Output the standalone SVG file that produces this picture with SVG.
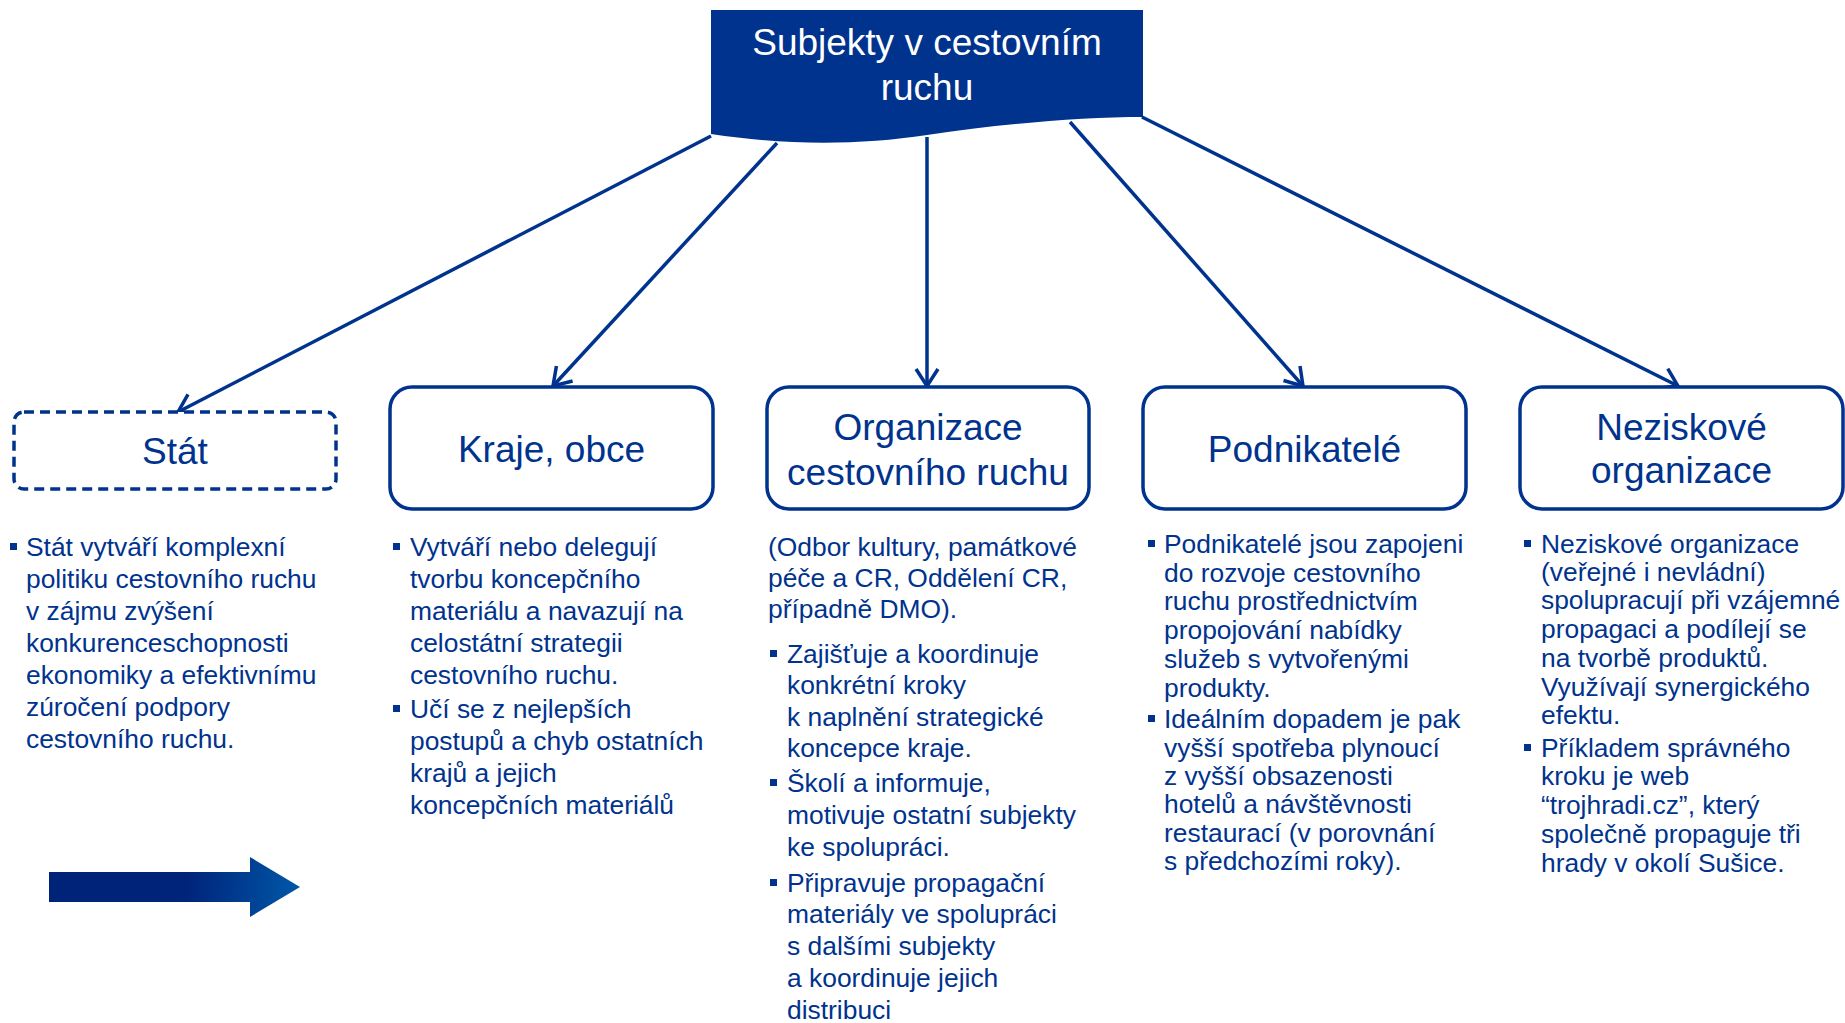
<svg xmlns="http://www.w3.org/2000/svg" width="1845" height="1023" viewBox="0 0 1845 1023">
<defs>
<style>
.box{fill:#ffffff;stroke:#00338D;stroke-width:3.5}
.dash{stroke-dasharray:10 6}
.title{font-family:"Liberation Sans",Arial,sans-serif;font-size:37px;fill:#00338D;text-anchor:middle}
.head{font-family:"Liberation Sans",Arial,sans-serif;font-size:37px;fill:#ffffff;text-anchor:middle}
.body{font-family:"Liberation Sans",Arial,sans-serif;font-size:26.4px;fill:#00338D}
.bul{fill:#00338D}
.conn{fill:none;stroke:#00338D;stroke-width:3.5;marker-end:url(#arr)}
</style>
<marker id="arr" viewBox="0 0 24 26" refX="20" refY="13" markerWidth="24" markerHeight="26" markerUnits="userSpaceOnUse" orient="auto">
<path d="M3,2 L20,13 L3,24" fill="none" stroke="#00338D" stroke-width="3.5" stroke-linejoin="miter"/>
</marker>
<linearGradient id="bigArrow" x1="49" y1="880" x2="300" y2="900" gradientUnits="userSpaceOnUse">
<stop offset="0" stop-color="#00237A"/>
<stop offset="0.55" stop-color="#00247A"/>
<stop offset="1" stop-color="#0058A8"/>
</linearGradient>
</defs>

<g id="connectors">
<line class="conn" x1="711" y1="136" x2="178" y2="412"/>
<line class="conn" x1="777" y1="143" x2="553" y2="386"/>
<line class="conn" x1="927" y1="137" x2="927" y2="386"/>
<line class="conn" x1="1070" y1="122" x2="1303" y2="386"/>
<line class="conn" x1="1142" y1="117" x2="1678" y2="386"/>
</g>

<g id="root">
<path d="M711,10 L1143,10 L1143,117 C1080,117 1000,124 927,135 C860,145 790,146 711,134 Z" fill="#00338D"/>
<text class="head" x="927" y="55">Subjekty v cestovním</text>
<text class="head" x="927" y="100">ruchu</text>
</g>

<g id="stat">
<rect class="box dash" x="14" y="412" width="322" height="77" rx="10"/>
<text class="title" x="175" y="464">Stát</text>
<rect class="bul" x="10" y="543" width="7" height="7"/>
<text class="body" x="26" y="556">Stát vytváří komplexní</text>
<text class="body" x="26" y="588">politiku cestovního ruchu</text>
<text class="body" x="26" y="620">v zájmu zvýšení</text>
<text class="body" x="26" y="652">konkurenceschopnosti</text>
<text class="body" x="26" y="684">ekonomiky a efektivnímu</text>
<text class="body" x="26" y="716">zúročení podpory</text>
<text class="body" x="26" y="748">cestovního ruchu.</text>
</g>

<g id="kraje">
<rect class="box" x="390" y="387" width="323" height="122" rx="22"/>
<text class="title" x="551.5" y="462">Kraje, obce</text>
<rect class="bul" x="393" y="543" width="7" height="7"/>
<text class="body" x="410" y="556">Vytváří nebo delegují</text>
<text class="body" x="410" y="588">tvorbu koncepčního</text>
<text class="body" x="410" y="620">materiálu a navazují na</text>
<text class="body" x="410" y="652">celostátní strategii</text>
<text class="body" x="410" y="684">cestovního ruchu.</text>
<rect class="bul" x="393" y="705" width="7" height="7"/>
<text class="body" x="410" y="718">Učí se z nejlepších</text>
<text class="body" x="410" y="750">postupů a chyb ostatních</text>
<text class="body" x="410" y="782">krajů a jejich</text>
<text class="body" x="410" y="814">koncepčních materiálů</text>
</g>

<g id="organizace">
<rect class="box" x="767" y="387" width="322" height="122" rx="22"/>
<text class="title" x="928" y="440">Organizace</text>
<text class="title" x="928" y="485">cestovního ruchu</text>
<text class="body" x="768" y="556">(Odbor kultury, památkové</text>
<text class="body" x="768" y="587">péče a CR, Oddělení CR,</text>
<text class="body" x="768" y="618">případně DMO).</text>
<rect class="bul" x="770" y="650" width="7" height="7"/>
<text class="body" x="787" y="663">Zajišťuje a koordinuje</text>
<text class="body" x="787" y="694">konkrétní kroky</text>
<text class="body" x="787" y="726">k naplnění strategické</text>
<text class="body" x="787" y="757">koncepce kraje.</text>
<rect class="bul" x="770" y="779" width="7" height="7"/>
<text class="body" x="787" y="792">Školí a informuje,</text>
<text class="body" x="787" y="824">motivuje ostatní subjekty</text>
<text class="body" x="787" y="856">ke spolupráci.</text>
<rect class="bul" x="770" y="879" width="7" height="7"/>
<text class="body" x="787" y="892">Připravuje propagační</text>
<text class="body" x="787" y="923">materiály ve spolupráci</text>
<text class="body" x="787" y="955">s dalšími subjekty</text>
<text class="body" x="787" y="987">a koordinuje jejich</text>
<text class="body" x="787" y="1019">distribuci</text>
</g>

<g id="podnikatele">
<rect class="box" x="1143" y="387" width="323" height="122" rx="22"/>
<text class="title" x="1304.5" y="462">Podnikatelé</text>
<rect class="bul" x="1148" y="540" width="7" height="7"/>
<text class="body" x="1164" y="553">Podnikatelé jsou zapojeni</text>
<text class="body" x="1164" y="582">do rozvoje cestovního</text>
<text class="body" x="1164" y="610">ruchu prostřednictvím</text>
<text class="body" x="1164" y="639">propojování nabídky</text>
<text class="body" x="1164" y="668">služeb s vytvořenými</text>
<text class="body" x="1164" y="697">produkty.</text>
<rect class="bul" x="1148" y="715" width="7" height="7"/>
<text class="body" x="1164" y="728">Ideálním dopadem je pak</text>
<text class="body" x="1164" y="757">vyšší spotřeba plynoucí</text>
<text class="body" x="1164" y="785">z vyšší obsazenosti</text>
<text class="body" x="1164" y="813">hotelů a návštěvnosti</text>
<text class="body" x="1164" y="842">restaurací (v porovnání</text>
<text class="body" x="1164" y="870">s předchozími roky).</text>
</g>

<g id="neziskove">
<rect class="box" x="1520" y="387" width="323" height="122" rx="22"/>
<text class="title" x="1681.5" y="440">Neziskové</text>
<text class="title" x="1681.5" y="483">organizace</text>
<rect class="bul" x="1524" y="540" width="7" height="7"/>
<text class="body" x="1541" y="553">Neziskové organizace</text>
<text class="body" x="1541" y="581">(veřejné i nevládní)</text>
<text class="body" x="1541" y="609">spolupracují při vzájemné</text>
<text class="body" x="1541" y="638">propagaci a podílejí se</text>
<text class="body" x="1541" y="667">na tvorbě produktů.</text>
<text class="body" x="1541" y="696">Využívají synergického</text>
<text class="body" x="1541" y="724">efektu.</text>
<rect class="bul" x="1524" y="744" width="7" height="7"/>
<text class="body" x="1541" y="757">Příkladem správného</text>
<text class="body" x="1541" y="785">kroku je web</text>
<text class="body" x="1541" y="814">“trojhradi.cz”, který</text>
<text class="body" x="1541" y="843">společně propaguje tři</text>
<text class="body" x="1541" y="872">hrady v okolí Sušice.</text>
</g>

<g id="big-arrow">
<path d="M49,872 L250,872 L250,857 L300,887 L250,917 L250,902 L49,902 Z" fill="url(#bigArrow)"/>
</g>
</svg>
